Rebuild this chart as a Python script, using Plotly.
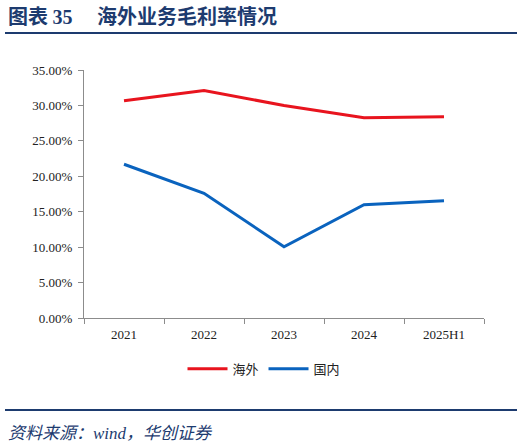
import plotly.graph_objects as go

# 海外业务毛利率情况 (values in %)
years = ["2021", "2022", "2023", "2024", "2025H1"]
overseas = [30.65, 32.1, 30.0, 28.25, 28.4]
domestic = [21.7, 17.6, 10.06, 16.0, 16.55]

navy = "#1d3b6f"
serif = "Liberation Serif, Times New Roman, serif"
cjk = "Noto Sans CJK SC"

fig = go.Figure()
fig.add_trace(go.Scatter(
    x=years, y=overseas, mode="lines", name="海外",
    line=dict(color="#e8141e", width=3),
))
fig.add_trace(go.Scatter(
    x=years, y=domestic, mode="lines", name="国内",
    line=dict(color="#0a63be", width=3),
))

axis_color = "#8c8c8c"
fig.update_xaxes(
    type="category", tickson="boundaries", range=[-0.5, 4.5],
    showline=True, linecolor=axis_color, linewidth=1,
    ticks="outside", ticklen=5, tickcolor=axis_color,
    ticklabelstandoff=4,
    showgrid=False, tickfont=dict(family=serif, size=13, color="#222"),
)
fig.update_yaxes(
    range=[0, 35], dtick=5, tickformat=".2f", ticksuffix="%",
    showline=True, linecolor=axis_color, linewidth=1,
    ticks="outside", ticklen=5, tickcolor=axis_color,
    ticklabelstandoff=3,
    showgrid=False, zeroline=False,
    tickfont=dict(family=serif, size=13, color="#222"),
)

fig.update_layout(
    width=524, height=445,
    margin=dict(l=84, r=40, t=70, b=127),
    plot_bgcolor="white", paper_bgcolor="white",
    showlegend=True,
    legend=dict(
        orientation="h", x=0.45, xanchor="center", y=-0.205, yanchor="middle",
        font=dict(family=cjk, size=13, color="#222"),
        itemwidth=40, tracegroupgap=0,
    ),
    shapes=[
        dict(type="line", xref="paper", yref="paper",
             x0=-0.1975, x1=1.0825, y0=1.149, y1=1.149,
             line=dict(color=navy, width=2)),
        dict(type="line", xref="paper", yref="paper",
             x0=-0.1975, x1=1.0825, y0=-0.371, y1=-0.371,
             line=dict(color=navy, width=2)),
    ],
    annotations=[
        dict(xref="paper", yref="paper", x=-0.195, y=1.218,
             xanchor="left", yanchor="middle", showarrow=False,
             text="<b>图表 <span style='font-family:Liberation Serif'>35</span>　 海外业务毛利率情况</b>",
             font=dict(family=cjk, size=20, color=navy)),
        dict(xref="paper", yref="paper", x=-0.195, y=-0.456,
             xanchor="left", yanchor="middle", showarrow=False,
             text="<i>资料来源：<span style='font-family:Liberation Serif'>wind</span>，华创证券</i>",
             font=dict(family=cjk, size=17, color=navy)),
    ],
)

fig.write_html("out.html", config={"displayModeBar": False},
               post_script="document.body.style.margin='0';")
